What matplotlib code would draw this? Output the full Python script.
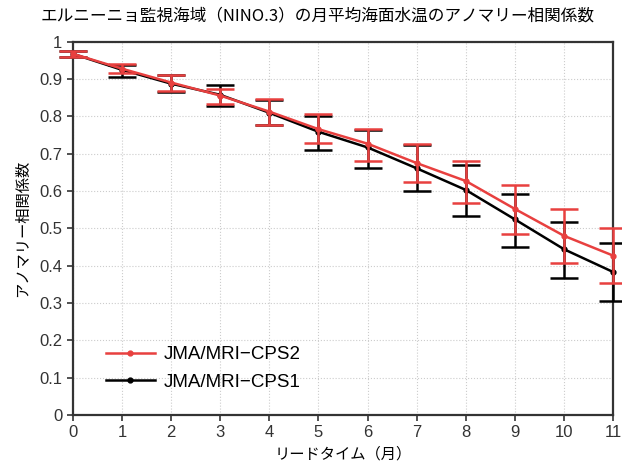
import matplotlib.pyplot as plt
import matplotlib as mpl
from matplotlib.lines import Line2D

mpl.rcParams["font.family"] = ["Noto Sans CJK JP", "DejaVu Sans"]
mpl.rcParams["axes.unicode_minus"] = False

lead = [0, 1, 2, 3, 4, 5, 6, 7, 8, 9, 10, 11]

cps2 = [0.968, 0.928, 0.891, 0.856, 0.813, 0.766, 0.727, 0.675, 0.627, 0.552, 0.480, 0.427]
cps2_hi = [0.975, 0.940, 0.912, 0.874, 0.846, 0.806, 0.767, 0.726, 0.682, 0.617, 0.551, 0.502]
cps2_lo = [0.960, 0.916, 0.867, 0.834, 0.776, 0.730, 0.681, 0.625, 0.567, 0.485, 0.406, 0.355]

cps1 = [0.968, 0.925, 0.888, 0.858, 0.810, 0.759, 0.717, 0.661, 0.603, 0.524, 0.444, 0.383]
cps1_hi = [0.975, 0.938, 0.910, 0.885, 0.844, 0.802, 0.765, 0.724, 0.669, 0.592, 0.518, 0.460]
cps1_lo = [0.960, 0.907, 0.866, 0.828, 0.776, 0.711, 0.661, 0.601, 0.534, 0.449, 0.368, 0.306]

RED = '#e8403f'
latin = ['Liberation Sans', 'Noto Sans CJK JP']

if __name__ == "__main__":
    fig = plt.figure(figsize=(6.22, 4.70), dpi=100)
    ax = fig.add_axes([0.117, 0.117, 0.869, 0.794])

    def err(v, hi, lo):
        return [[a - b for a, b in zip(v, lo)], [b - a for a, b in zip(v, hi)]]

    ax.errorbar(lead, cps1, yerr=err(cps1, cps1_hi, cps1_lo), color='black', lw=1.8,
                marker='o', ms=3.5, capsize=10, capthick=1.8, elinewidth=1.8,
                zorder=3, clip_on=False)
    ax.errorbar(lead, cps2, yerr=err(cps2, cps2_hi, cps2_lo), color=RED, lw=1.8,
                marker='o', ms=3.5, capsize=10, capthick=1.8, elinewidth=1.8,
                zorder=4, clip_on=False)

    ax.set_xlim(0, 11)
    ax.set_ylim(0, 1)
    ax.set_xticks(lead)
    ax.set_yticks([i / 10 for i in range(11)])
    ax.set_yticklabels(['0', '0.1', '0.2', '0.3', '0.4', '0.5', '0.6', '0.7', '0.8', '0.9', '1'])
    ax.tick_params(labelsize=12, direction='out', length=4, width=1.2, colors='#333333')
    for t in ax.get_xticklabels() + ax.get_yticklabels():
        t.set_family(latin)
    ax.grid(True, linestyle=':', color='#cccccc', lw=0.8)
    for s in ax.spines.values():
        s.set_linewidth(1.6)
        s.set_color('#333333')

    ax.set_xlabel('リードタイム（月）', fontsize=11, labelpad=4)
    ax.set_ylabel('アノマリー相関係数', fontsize=11, labelpad=6)
    fig.suptitle('エルニーニョ監視海域（NINO.3）の月平均海面水温のアノマリー相関係数',
                 fontsize=12, x=0.51, y=0.985)

    handles = [Line2D([], [], color=RED, lw=1.8, marker='o', ms=3.5),
               Line2D([], [], color='black', lw=1.8, marker='o', ms=3.5)]
    labels = ['JMA/MRI−CPS2', 'JMA/MRI−CPS1']
    ax.legend(handles, labels, loc='lower left', bbox_to_anchor=(0.03, 0.02),
              frameon=False, prop={'family': latin, 'size': 13.5},
              handlelength=2.6, labelspacing=0.55, handletextpad=0.5)

    fig.savefig('out.png', dpi=100)
